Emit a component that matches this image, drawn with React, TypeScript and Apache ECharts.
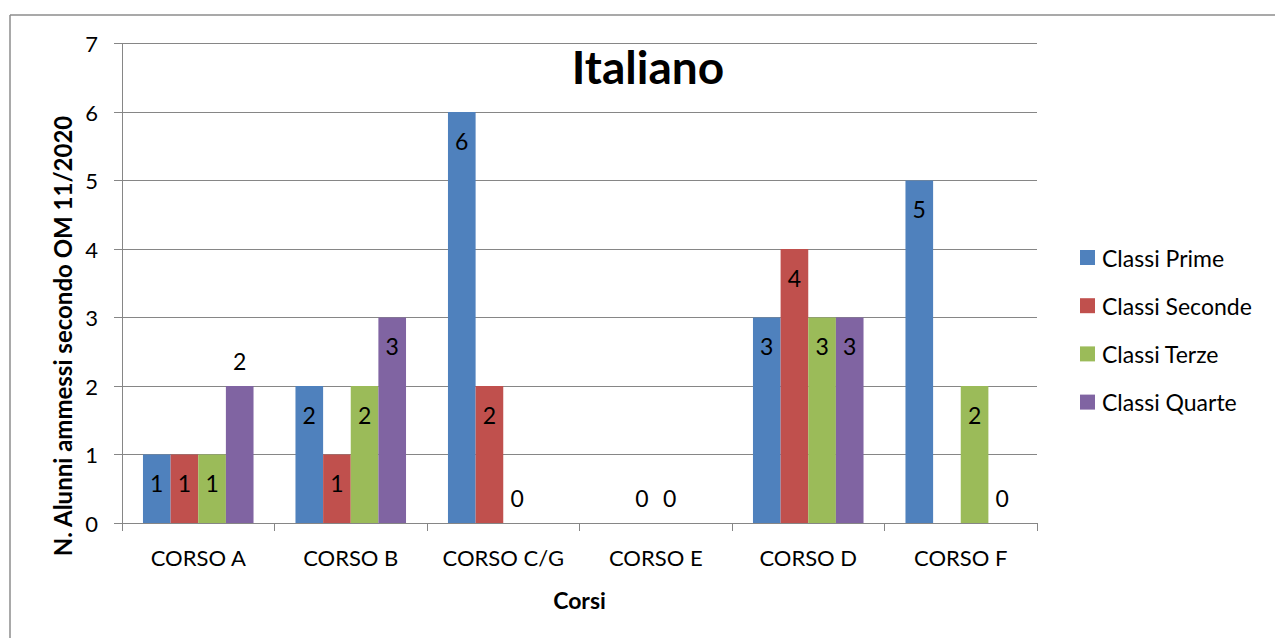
import React, { useEffect, useRef } from "react";
import * as echarts from "echarts";

const categories = ["CORSO A", "CORSO B", "CORSO C/G", "CORSO E", "CORSO D", "CORSO F"];
const seriesNames = ["Classi Prime", "Classi Seconde", "Classi Terze", "Classi Quarte"];
const prime = [1, 2, 6, null, 3, 5];
const seconde = [1, 1, 2, 0, 4, null];
const terze = [1, 2, 0, 0, 3, 2];
const quarte = [2, 3, null, null, 3, 0];
const yTicks = [0, 1, 2, 3, 4, 5, 6, 7];
const colors = ["#4F81BD", "#C0504D", "#9BBB59", "#8064A2"];
const yTitle = "N. Alunni ammessi secondo OM 11/2020";
const xTitle = "Corsi";
const chartTitle = "Italiano";

const FONT = "Lato, 'Noto Sans', sans-serif";

// labels that Excel placed above the bar instead of inside its end
const labelAbove: Record<string, boolean> = { "3-0": true };

export default function App() {
  const ref = useRef<HTMLDivElement>(null);
  useEffect(() => {
    if (!ref.current) return;
    const chart = echarts.init(ref.current, undefined, { renderer: "svg" });
    const all = [prime, seconde, terze, quarte];
    const series = all.map((vals, si) => ({
      name: seriesNames[si],
      type: "bar",
      barGap: "0%",
      barCategoryGap: "27.5%",
      itemStyle: { color: colors[si] },
      label: {
        show: true,
        position: "insideTop",
        distance: 17,
        color: "#000",
        fontSize: 23,
        fontFamily: FONT,
      },
      data: vals.map((v, ci) => {
        if (v === null) return "-";
        if (v === 0 || labelAbove[`${si}-${ci}`]) {
          return { value: v, label: { position: "top", distance: 14 } };
        }
        return v;
      }),
    }));
    chart.setOption({
      animation: false,
      backgroundColor: "#fff",
      textStyle: { fontFamily: FONT },
      title: {
        text: chartTitle,
        left: 648,
        top: 66,
        padding: 0,
        textAlign: "center",
        textVerticalAlign: "middle",
        textStyle: { fontSize: 46, fontWeight: "bold", color: "#000", fontFamily: FONT },
      },
      legend: {
        orient: "vertical",
        left: 1080,
        top: 246,
        padding: 0,
        itemWidth: 15,
        itemHeight: 15,
        itemGap: 25.2,
        icon: "rect",
        data: seriesNames,
        textStyle: { fontSize: 23, lineHeight: 22, color: "#000", fontFamily: FONT, padding: [0, 0, 0, 2] },
      },
      grid: { left: 122, top: 43.5, right: 238, bottom: 115, containLabel: false },
      xAxis: {
        type: "category",
        data: categories,
        name: xTitle,
        nameLocation: "middle",
        nameGap: 65,
        nameTextStyle: { fontSize: 23, fontWeight: "bold", color: "#000", fontFamily: FONT },
        axisLine: { lineStyle: { color: "#868686", width: 1 } },
        axisTick: { show: true, length: 8, lineStyle: { color: "#868686" } },
        axisLabel: { interval: 0, fontSize: 22, color: "#000", margin: 23, fontFamily: FONT },
      },
      yAxis: {
        type: "value",
        min: yTicks[0],
        max: yTicks[yTicks.length - 1],
        interval: 1,
        axisLine: { show: true, lineStyle: { color: "#868686", width: 1 } },
        axisTick: { show: true, length: 8, lineStyle: { color: "#868686" } },
        axisLabel: { fontSize: 22, color: "#000", margin: 24, fontFamily: FONT },
        splitLine: { show: true, lineStyle: { color: "#868686", width: 1 } },
      },
      graphic: [
        { type: "line", shape: { x1: 10, y1: 15, x2: 1275, y2: 15 }, style: { stroke: "#8c8c8c", lineWidth: 1.5 } },
        { type: "line", shape: { x1: 10, y1: 15, x2: 10, y2: 638 }, style: { stroke: "#8c8c8c", lineWidth: 1.5 } },
        {
          type: "text",
          x: 62,
          y: 336,
          rotation: Math.PI / 2,
          style: {
            text: yTitle,
            fontSize: 24,
            fontWeight: "bold",
            fontFamily: FONT,
            fill: "#000",
            align: "center",
            verticalAlign: "middle",
          },
        },
      ],
      series,
    });
    return () => chart.dispose();
  }, []);
  return <div ref={ref} style={{ position: "fixed", left: 0, top: 0, width: 1275, height: 638 }} />;
}
